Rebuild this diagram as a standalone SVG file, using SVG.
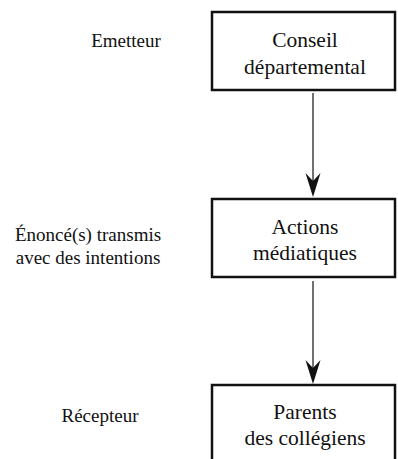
<svg xmlns="http://www.w3.org/2000/svg" width="398" height="459" viewBox="0 0 398 459">
  <style>
    .box { fill: #fff; stroke: #111; stroke-width: 2.5; }
    .conn { stroke: #111; stroke-width: 1.2; fill: none; }
    .head { fill: #111; stroke: none; }
    text { font-family: 'Liberation Serif', 'Times New Roman', Times, 'Nimbus Roman', 'Noto Serif', 'DejaVu Serif', serif; fill: #111; text-anchor: middle; }
    .cap { font-size: 19px; }
    .lbl { font-size: 21.5px; }
  </style>
  <rect width="398" height="459" fill="#fff"/>

  <!-- side captions -->
  <g id="labels">
    <text class="cap" x="126" y="47">Emetteur</text>
    <text class="cap" x="88" y="241">Énoncé(s) transmis</text>
    <text class="cap" x="88" y="264">avec des intentions</text>
    <text class="cap" x="100" y="422">Récepteur</text>
  </g>

  <g id="node-conseil">
    <rect class="box" x="212" y="12" width="183" height="78"/>
    <text class="lbl" x="305" y="47">Conseil</text>
    <text class="lbl" x="305" y="74">départemental</text>
  </g>

  <g id="node-actions">
    <rect class="box" x="212" y="199" width="183" height="78"/>
    <text class="lbl" x="305" y="234">Actions</text>
    <text class="lbl" x="305" y="260">médiatiques</text>
  </g>

  <g id="node-parents">
    <rect class="box" x="212" y="385" width="183" height="90"/>
    <text class="lbl" x="305" y="419">Parents</text>
    <text class="lbl" x="305" y="445">des collégiens</text>
  </g>

  <g id="connectors">
    <line class="conn" x1="313" y1="93" x2="313" y2="185"/>
    <path class="head" d="M313 197 L305.5 173 L313 181 L320.5 173 Z"/>
    <line class="conn" x1="313" y1="281" x2="313" y2="372"/>
    <path class="head" d="M313 384 L305.5 360 L313 368 L320.5 360 Z"/>
  </g>
</svg>
